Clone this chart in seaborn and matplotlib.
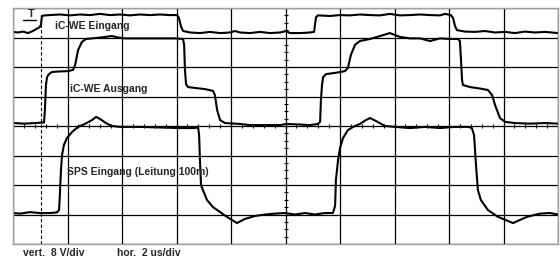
import matplotlib
matplotlib.use('Agg')
import matplotlib.pyplot as plt
import seaborn as sns
import pandas as pd
import numpy as np

# time in us (2 us/div), level in divisions (0 = screen centre)
t_eingang = [0.00, 0.18, 0.37, 0.55, 0.73, 0.88, 0.99, 1.03, 1.06, 1.17, 1.36, 1.72, 2.09, 2.46, 2.83,
             3.19, 3.56, 3.93, 4.29, 4.66, 5.03, 5.39, 5.76, 6.02, 6.09, 6.17, 6.24, 6.50, 6.86, 7.23,
             7.60, 7.96, 8.15, 8.33, 8.70, 9.06, 9.43, 9.80, 10.02, 10.17, 10.53, 10.90, 11.05, 11.08,
             11.12, 11.19, 11.63, 12.00, 12.37, 12.73, 13.10, 13.47, 13.83, 14.20, 14.57, 14.94, 15.30,
             15.67, 15.85, 16.07, 16.15, 16.22, 16.29, 16.59, 16.95, 17.32, 17.69, 18.06, 18.42, 18.79,
             19.16, 19.52, 20.00]
v_eingang = [3.19, 3.17, 3.20, 3.15, 3.22, 3.30, 3.36, 3.45, 3.73, 3.75, 3.76, 3.78, 3.75, 3.78, 3.76,
             3.80, 3.76, 3.78, 3.75, 3.78, 3.76, 3.78, 3.76, 3.76, 3.66, 3.36, 3.22, 3.17, 3.15, 3.19,
             3.15, 3.17, 3.22, 3.17, 3.15, 3.19, 3.15, 3.17, 3.22, 3.15, 3.15, 3.17, 3.19, 3.42,
             3.69, 3.75, 3.73, 3.76, 3.75, 3.78, 3.76, 3.75, 3.80, 3.75, 3.76, 3.78, 3.76,
             3.75, 3.80, 3.76, 3.66, 3.39, 3.25, 3.20, 3.19, 3.22, 3.17, 3.19, 3.15, 3.20,
             3.17, 3.19, 3.15]

t_ausgang = [0.00, 0.44, 0.81, 1.14, 1.17, 1.21, 1.25, 1.32, 1.43, 1.72, 2.02, 2.20, 2.28, 2.39, 2.53,
             2.68, 3.01, 3.38, 3.63, 3.85, 4.11, 4.66, 5.39, 5.94, 6.24, 6.28, 6.31, 6.35, 6.42, 6.68,
             7.05, 7.34, 7.41, 7.49, 7.60, 7.78, 8.33, 8.70, 9.25, 9.80, 10.02, 10.53, 10.90, 11.19,
             11.27, 11.30, 11.34, 11.38, 11.49, 11.82, 12.00, 12.18, 12.29, 12.40, 12.55, 12.73, 13.10,
             13.47, 13.83, 14.20, 14.57, 14.94, 15.30, 15.67, 16.04, 16.33, 16.40, 16.44, 16.48, 16.51,
             16.77, 17.14, 17.43, 17.58, 17.69, 17.87, 18.06, 18.42, 18.97, 19.52, 20.00]
v_ausgang = [0.10, 0.08, 0.10, 0.12, 0.54, 1.39, 1.66, 1.76, 1.83, 1.85, 1.86, 1.90, 2.07, 2.58, 2.85,
             2.95, 2.98, 3.02, 3.05, 3.00, 2.97, 2.97, 2.97, 2.97, 2.95, 2.75, 1.90, 1.42, 1.32, 1.29,
             1.25, 1.19, 1.05, 0.54, 0.20, 0.10, 0.07, 0.03, 0.03, 0.03, 0.07, 0.05, 0.03, 0.07,
             0.14, 0.88, 1.39, 1.66, 1.76, 1.80, 1.83, 1.86, 1.97, 2.41, 2.75, 2.88, 2.95,
             3.05, 3.15, 3.02, 2.97, 2.97, 2.88, 2.97, 2.95, 2.95, 2.88, 2.24, 1.56, 1.39,
             1.32, 1.27, 1.22, 1.05, 0.71, 0.27, 0.14, 0.10, 0.08, 0.10, 0.08]

t_sps = [0.00, 0.26, 0.62, 0.99, 1.36, 1.61, 1.69, 1.72, 1.76, 1.80, 1.87, 1.98, 2.17, 2.39, 2.64,
         2.90, 3.05, 3.19, 3.41, 3.63, 3.93, 4.66, 5.39, 6.13, 6.68, 6.79, 6.83, 6.86, 6.90, 6.97,
         7.12, 7.34, 7.85, 8.22, 8.51, 8.88, 9.25, 9.61, 9.98, 10.35, 10.72, 11.08, 11.45, 11.74,
         11.82, 11.85, 11.93, 12.00, 12.11, 12.29, 12.48, 12.73, 12.95, 13.10, 13.32, 13.65, 14.02,
         14.57, 15.12, 15.67, 16.22, 16.70, 16.84, 16.92, 16.99, 17.06, 17.17, 17.43, 17.80, 18.35,
         18.86, 19.34, 19.71, 20.00]
v_sps = [-2.95, -2.97, -2.92, -2.95, -2.95, -2.93, -2.85, -2.34, -1.49, -0.98, -0.64, -0.41, -0.20, -0.03, 0.07,
         0.20, 0.31, 0.24, 0.10, 0.00, -0.03, -0.03, -0.05, -0.07, -0.07, -0.03, -0.31, -1.15, -2.00, -2.17,
         -2.51, -2.75, -3.08, -3.29, -3.15, -3.05, -3.00, -2.97, -2.95, -3.00, -2.95, -3.00, -2.95, -2.95,
         -2.71, -1.83, -1.15, -0.75, -0.41, -0.14, -0.03, 0.07, 0.20, 0.27, 0.17, 0.00, -0.03,
         -0.07, -0.03, -0.07, -0.03, -0.03, -0.07, -0.31, -1.32, -2.17, -2.51, -2.85, -3.08, -3.29,
         -3.08, -2.97, -2.95, -3.00]

trace_labels = ["iC-WE Eingang", "iC-WE Ausgang", "SPS Eingang (Leitung 100m)"]
label_pos = [(1.54, 3.30), (2.09, 1.15), (1.98, -1.66)]
trigger_t = 1.03
scale_texts = ["vert.  8 V/div", "hor.  2 us/div"]

sns.set_theme(style="white")
plt.rcParams['font.family'] = ['Liberation Sans', 'DejaVu Sans']

fig = plt.figure(figsize=(5.6, 2.59), dpi=100)
ax = fig.add_axes([13 / 560, 15 / 259, 545 / 560, 236 / 259])

ax.set_xlim(0, 20)
ax.set_ylim(-4, 4)
ax.set_xticks(np.arange(0, 21, 2))
ax.set_yticks(np.arange(-4, 5, 1))
ax.grid(True, color='black', linewidth=0.9)
ax.tick_params(length=0, labelbottom=False, labelleft=False)
for s in ax.spines.values():
    s.set_color('#a0a0a0')
    s.set_linewidth(1.0)

# centre cross minor ticks
ax.plot(np.arange(0, 20.01, 0.4), np.zeros(51), '|', color='black', ms=3, mew=0.8)
ax.plot(np.full(33, 10.0), np.arange(-4, 4.01, 0.25), '_', color='black', ms=3, mew=0.8)

# trigger position marker
ax.axvline(trigger_t, ymin=0, ymax=0.97, color='black', lw=0.8, ls=(0, (3, 2)))
ax.text(0.66, 3.69, "T", fontsize=8, fontweight='bold', ha='center', va='baseline')
ax.plot([0.37, 0.84], [3.58, 3.58], color='black', lw=1.0)

traces = [(t_eingang, v_eingang), (t_ausgang, v_ausgang), (t_sps, v_sps)]
for t, v in traces:
    df = pd.DataFrame({'t': t, 'v': v})
    sns.lineplot(data=df, x='t', y='v', ax=ax, sort=False, estimator=None,
                 color='black', linewidth=1.5)

for name, (x, y) in zip(trace_labels, label_pos):
    ax.text(x, y, name, fontsize=7.5, fontweight='bold', ha='left', va='baseline')

ax.set_xlabel("")
ax.set_ylabel("")

fig.text(23 / 560, 3 / 259, scale_texts[0], fontsize=7.5, fontweight='bold', ha='left', va='baseline')
fig.text(117 / 560, 3 / 259, scale_texts[1], fontsize=7.5, fontweight='bold', ha='left', va='baseline')

fig.savefig("out.png", dpi=100)
plt.close(fig)
